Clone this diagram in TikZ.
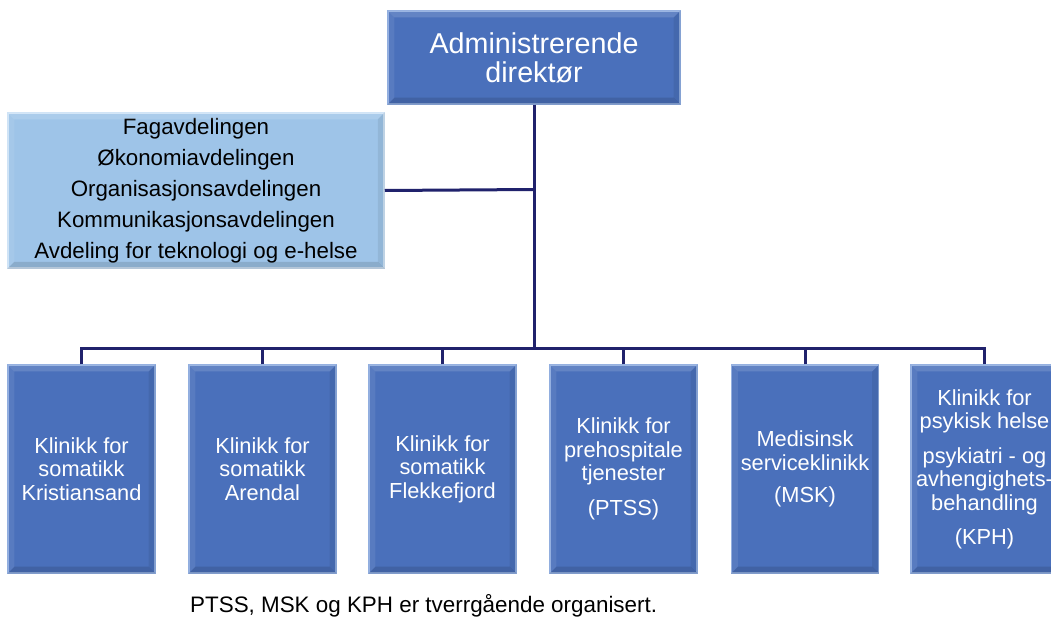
\documentclass[tikz,border=0pt]{standalone}
\usepackage{fontspec}
\setmainfont{Liberation Sans}
\usetikzlibrary{calc}
\definecolor{boxblue}{RGB}{74,112,187}
\definecolor{boxblueedge}{RGB}{140,170,222}
\definecolor{lightblue}{RGB}{158,196,232}
\definecolor{lightblueedge}{RGB}{205,226,246}
\definecolor{navy}{RGB}{32,34,108}
\newcommand{\bevelit}[2]{%
  \fill[white,opacity=0.14] (#1.north west) -- (#1.north east) -- ($(#1.north east)+(-#2,#2)$) -- ($(#1.north west)+(#2,#2)$) -- cycle;
  \fill[white,opacity=0.08] (#1.north west) -- ($(#1.north west)+(#2,#2)$) -- ($(#1.south west)+(#2,-#2)$) -- (#1.south west) -- cycle;
  \fill[black,opacity=0.12] (#1.south west) -- (#1.south east) -- ($(#1.south east)+(-#2,-#2)$) -- ($(#1.south west)+(#2,-#2)$) -- cycle;
  \fill[black,opacity=0.07] (#1.north east) -- ($(#1.north east)+(-#2,#2)$) -- ($(#1.south east)+(-#2,-#2)$) -- (#1.south east) -- cycle;
}
\tikzset{
  bluebox/.style={draw=boxblueedge, line width=1.2pt, fill=boxblue, text=white, align=center, inner sep=0pt},
  clinic/.style={bluebox, minimum width=147, minimum height=208, font=\fontsize{21.8}{23.5}\selectfont},
  staffbox/.style={draw=lightblueedge, line width=1.5pt, fill=lightblue, text=black, align=center, inner sep=0pt, minimum width=376, minimum height=155, font=\fontsize{22.3}{31}\selectfont},
  link/.style={draw=navy, line width=3pt},
  note/.style={font=\fontsize{22.4}{26}\selectfont, anchor=west, inner sep=0pt}
}
\begin{document}
\begin{tikzpicture}[x=1pt,y=-1pt]
\useasboundingbox (0,0) rectangle (1051,618);
\fill[white] (0,0) rectangle (1051,618);

\coordinate (bus) at (534,348);
\coordinate (staffjoin) at (534,189.5);

\node[bluebox, minimum width=292, minimum height=93, font=\fontsize{28.7}{29}\selectfont] (dir) at (534,57.5) {Administrerende\\direktør};
\node[staffbox] (staff) at (196,190.5) {Fagavdelingen\\Økonomiavdelingen\\Organisasjonsavdelingen\\Kommunikasjonsavdelingen\\Avdeling for teknologi og e-helse};

\node[clinic] (k1) at (81.5,469) {Klinikk for\\somatikk\\Kristiansand};
\node[clinic] (k2) at (262.5,469) {Klinikk for\\somatikk\\Arendal};
\node[clinic] (k3) at (442.5,469) {Klinikk for\\somatikk\\Flekkefjord};
\node[clinic] (k4) at (623.5,469) {Klinikk for\\prehospitale\\tjenester\\[11pt](PTSS)};
\node[clinic] (k5) at (805,469) {Medisinsk\\serviceklinikk\\[8.5pt](MSK)};
\node[clinic] (k6) at (984.5,469) {Klinikk for\\psykisk helse\\[11pt]psykiatri - og\\avhengighets-\\behandling\\[10.5pt](KPH)};

\bevelit{dir}{7}
\bevelit{staff}{7}
\foreach \k in {k1,k2,k3,k4,k5,k6} {\bevelit{\k}{7}}

\draw[link] (dir.south) -- (bus);
\draw[link] (staff.east) -- (staffjoin);
\foreach \k in {k1,k2,k3,k4,k5,k6} {\draw[link] (\k.north) |- (bus);}

\node[note] (fn) at (190,606) {PTSS, MSK og KPH er tverrgående organisert.};
\end{tikzpicture}
\end{document}
